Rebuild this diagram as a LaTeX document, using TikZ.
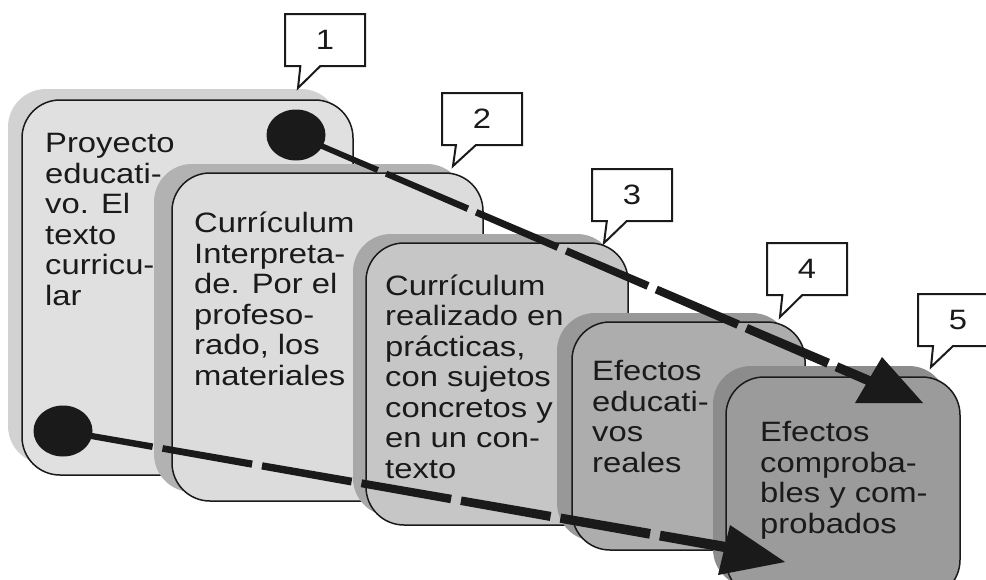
\documentclass[tikz,border=0pt]{standalone}
\usepackage{fontspec}
\setmainfont{Liberation Sans}[FakeStretch=1.17]
\usetikzlibrary{shapes.geometric,shapes.callouts,calc}
\definecolor{ink}{HTML}{1A1A1A}
\definecolor{cAf}{HTML}{E0E0E0}
\definecolor{cAs}{HTML}{D2D2D2}
\definecolor{cBf}{HTML}{DCDCDC}
\definecolor{cBs}{HTML}{B2B2B2}
\definecolor{cCf}{HTML}{C6C6C6}
\definecolor{cCs}{HTML}{A8A8A8}
\definecolor{cDf}{HTML}{ADADAD}
\definecolor{cDs}{HTML}{989898}
\definecolor{cEf}{HTML}{9B9B9B}
\definecolor{cEs}{HTML}{8C8C8C}
\begin{document}
\begin{tikzpicture}[x=1pt,y=-1pt,
  shadowbox/.style={rectangle, rounded corners=38pt, inner sep=0pt, outer sep=0pt, anchor=north west, draw=none},
  cardbox/.style={rectangle, rounded corners=38pt, inner sep=0pt, outer sep=0pt, anchor=north west, draw=ink, line width=1.5pt},
  cardtext/.style={anchor=base west, inner sep=0pt, align=left, text=ink, font=\fontsize{28pt}{30.5pt}\selectfont},
  numbox/.style={rectangle callout, draw=ink, fill=white, line width=2pt, minimum width=80pt, minimum height=52pt, inner sep=0pt, callout pointer width=20pt, text=ink, font=\fontsize{28pt}{30pt}\selectfont},
  dot/.style={ellipse, fill=ink, inner sep=0pt, minimum width=59pt, minimum height=51pt},
  flow/.style={draw=ink, line width=14pt}
]
\path[use as bounding box] (0,0) rectangle (986,579);
\clip (0,0) rectangle (986,579);

% card 1
\node[shadowbox, fill=cAs, minimum width=331pt, minimum height=375pt] (s1) at (8,89) {};
\node[cardbox, fill=cAf, minimum width=331pt, minimum height=375pt] (k1) at (22,100) {};
\node[cardtext] (t1) at (45,305) {Proyecto\\educati-\\vo. El\\texto\\curricu-\\lar};
% card 2
\node[shadowbox, fill=cBs, minimum width=311pt, minimum height=328pt] (s2) at (154,164) {};
\node[cardbox, fill=cBf, minimum width=311pt, minimum height=328pt] (k2) at (172,173) {};
\node[cardtext] (t2) at (194,385) {Currículum\\Interpreta-\\de. Por el\\profeso-\\rado, los\\materiales};
% card 3
\node[shadowbox, fill=cCs, minimum width=262pt, minimum height=282pt] (s3) at (353,234) {};
\node[cardbox, fill=cCf, minimum width=262pt, minimum height=282pt] (k3) at (366,243) {};
\node[cardtext] (t3) at (385,478) {Currículum\\realizado en\\prácticas,\\con sujetos\\concretos y\\en un con-\\texto};
% card 4
\node[shadowbox, fill=cDs, minimum width=233pt, minimum height=228pt] (s4) at (557,313) {};
\node[cardbox, fill=cDf, minimum width=233pt, minimum height=228pt] (k4) at (572,322) {};
\node[cardtext] (t4) at (592,472) {Efectos\\educati-\\vos\\reales};
% card 5
\node[shadowbox, fill=cEs, minimum width=234pt, minimum height=221pt] (s5) at (713,366) {};
\node[cardbox, fill=cEf, minimum width=234pt, minimum height=221pt] (k5) at (726,377) {};
\node[cardtext] (t5) at (760,533) {Efectos\\comproba-\\bles y com-\\probados};

% dots and tapered dashed connectors
\node[dot] (d1) at (296,135) {};
\node[dot] (d2) at (63,431) {};
\coordinate (e1) at (872,382);
\coordinate (e2) at (748,551);
\begin{scope}
  \clip ($(d1.center)!2.7pt!90:(e1)$) -- ($(d1.center)!2.7pt!-90:(e1)$)
        -- ($(e1)!4.8pt!90:(d1.center)$) -- ($(e1)!4.8pt!-90:(d1.center)$) -- cycle;
  \draw[flow, dash pattern=on 89pt off 9pt] (d1.center) -- (e1);
\end{scope}
\begin{scope}
  \clip ($(d2.center)!3pt!90:(e2)$) -- ($(d2.center)!3pt!-90:(e2)$)
        -- ($(e2)!5.2pt!90:(d2.center)$) -- ($(e2)!5.2pt!-90:(d2.center)$) -- cycle;
  \draw[flow, dash pattern=on 91pt off 10pt] (d2.center) -- (e2);
\end{scope}
\fill[ink] (882,357) -- (855,403) -- (923,403) -- cycle;
\fill[ink] (730,525) -- (785,562) -- (718,575) -- cycle;

% callouts
\node[numbox, callout absolute pointer={(298,88)}] (n1) at (325,40) {1};
\node[numbox, callout absolute pointer={(453,166)}] (n2) at (482,119) {2};
\node[numbox, callout absolute pointer={(604,243)}] (n3) at (632,195) {3};
\node[numbox, callout absolute pointer={(780,317)}] (n4) at (807,269) {4};
\node[numbox, callout absolute pointer={(931,367)}] (n5) at (958,320) {5};
\end{tikzpicture}
\end{document}
